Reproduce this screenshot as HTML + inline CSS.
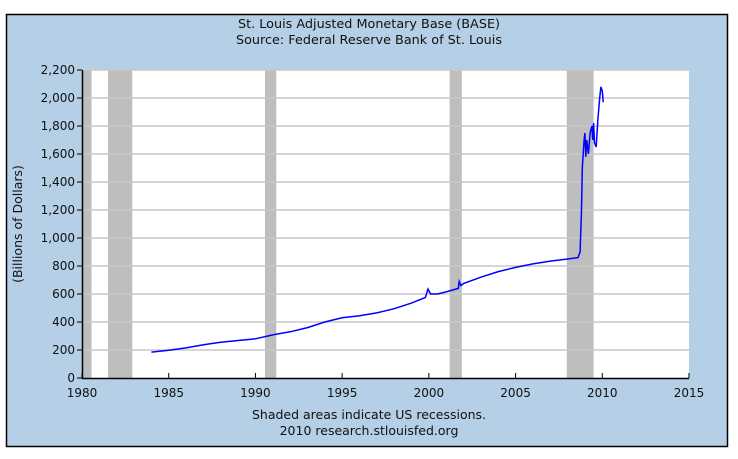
<!DOCTYPE html>
<html><head><meta charset="utf-8"><style>
body{margin:0;background:#fff;}
svg{display:block;font-family:"DejaVu Sans","Liberation Sans",sans-serif;}
</style></head><body>
<svg width="738" height="459" xmlns="http://www.w3.org/2000/svg">
<rect x="6.5" y="14.5" width="721" height="432" fill="#b5cfe7" stroke="#000" stroke-width="1.5"/>
<text x="369" y="28" text-anchor="middle" font-size="12.8" fill="#111">St. Louis Adjusted Monetary Base (BASE)</text>
<text x="369" y="44" text-anchor="middle" font-size="12.8" fill="#111">Source: Federal Reserve Bank of St. Louis</text>
<rect x="82" y="70" width="607" height="308" fill="#fff"/>
<g id="rec"></g><g id="grid"></g><g id="axes"></g>
<path id="line" fill="none" stroke="#0000ff" stroke-width="1.5"/>
<text transform="translate(22,224) rotate(-90)" text-anchor="middle" font-size="12.5" fill="#111">(Billions of Dollars)</text>
<text x="369" y="419" text-anchor="middle" font-size="12.5" fill="#111">Shaded areas indicate US recessions.</text>
<text x="369" y="435" text-anchor="middle" font-size="12.5" fill="#111">2010 research.stlouisfed.org</text>
</svg>
<script>
const years=[1984.0,1985,1986,1987,1988,1989,1990,1991,1992,1993,1994,1995,1996,1997,1998,1999,1999.8,1999.95,2000.1,2000.5,2001,2001.7,2001.75,2001.85,2002,2003,2004,2005,2006,2007,2008,2008.6,2008.72,2008.8,2008.85,2008.95,2009.0,2009.05,2009.1,2009.2,2009.3,2009.4,2009.45,2009.5,2009.55,2009.65,2009.75,2009.85,2009.92,2010.0,2010.05];
const values=[185,198,215,237,255,268,280,308,330,360,400,430,445,465,495,535,575,635,600,600,615,640,690,660,675,720,760,790,815,835,850,860,900,1200,1500,1700,1750,1580,1700,1600,1750,1800,1700,1820,1680,1650,1850,2000,2080,2050,1970];
const recessions=[[1980.0,1980.55],[1981.5,1982.9],[1990.55,1991.2],[2001.2,2001.9],[2007.95,2009.5]];
const yTicks=[0,200,400,600,800,1000,1200,1400,1600,1800,2000,2200];
const xTicks=[1980,1985,1990,1995,2000,2005,2010,2015];
const NS="http://www.w3.org/2000/svg";
const X=y=>82+(y-1980)*(607/35), Y=v=>378-v*(308/2200);
function mk(t,a,p){const e=document.createElementNS(NS,t);for(const k in a)e.setAttribute(k,a[k]);p.appendChild(e);return e;}
const rec=document.getElementById('rec'),grid=document.getElementById('grid'),axes=document.getElementById('axes');
recessions.forEach(r=>{const e=mk('rect',{x:X(r[0]),y:70,width:X(r[1])-X(r[0]),height:308,fill:'#bebebe'},rec);

});
yTicks.forEach(v=>{if(v>0){const g=mk('line',{x1:82,x2:689,y1:Y(v),y2:Y(v),stroke:'#c8c8c8','stroke-width':1.5},grid);

}
mk('line',{x1:77,x2:82,y1:Y(v),y2:Y(v),stroke:'#000'},axes);
const t=mk('text',{x:75,y:Y(v)+4,'text-anchor':'end','font-size':12,fill:'#111'},axes);t.textContent=v.toLocaleString('en-US');

});
xTicks.forEach(y=>{mk('line',{x1:X(y),x2:X(y),y1:373,y2:378,stroke:'#000'},axes);
const t=mk('text',{x:X(y),y:397,'text-anchor':'middle','font-size':12,fill:'#111'},axes);t.textContent=y;

});
mk('path',{d:'M82.5,70V378.5H689',stroke:'#000','stroke-width':1.5,fill:'none'},axes);
document.getElementById('line').setAttribute('d',years.map((y,i)=>(i?'L':'M')+X(y).toFixed(1)+','+Y(values[i]).toFixed(1)).join(''));
</script>
</body></html>
